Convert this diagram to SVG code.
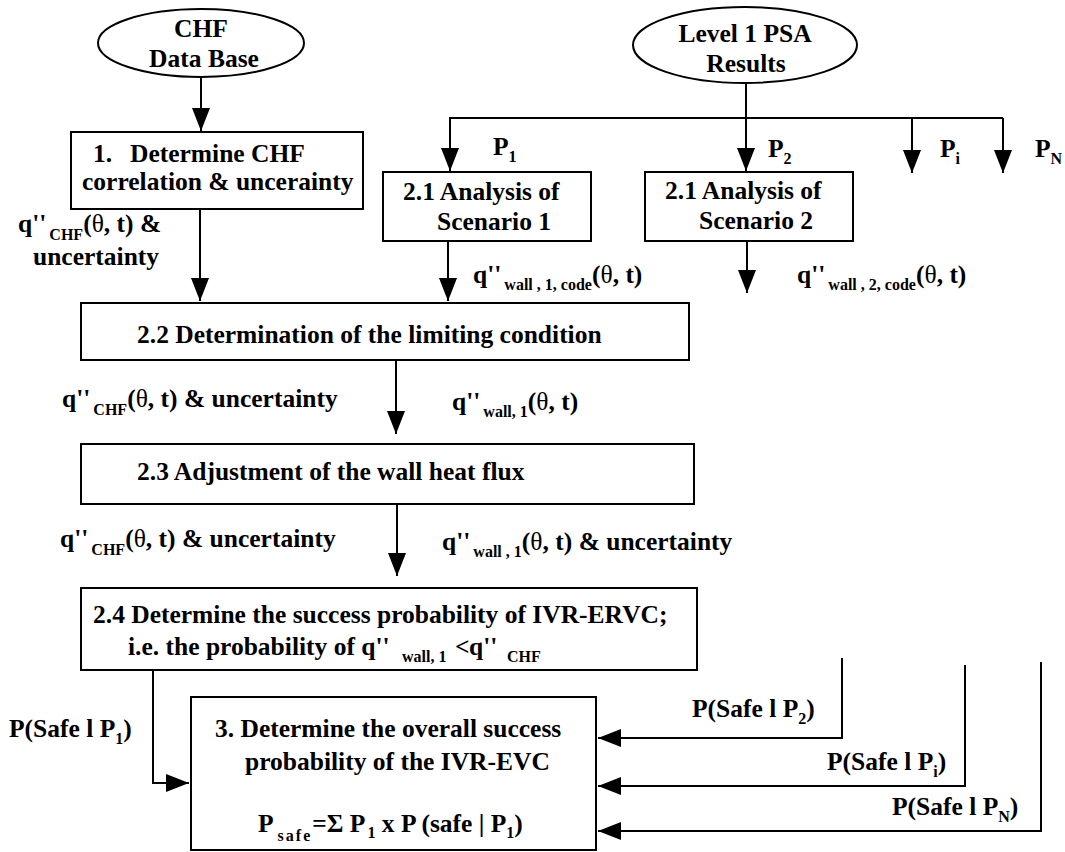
<svg xmlns="http://www.w3.org/2000/svg" width="1065" height="852" viewBox="0 0 1065 852">
<style>
text{font-family:"Liberation Serif","Times New Roman",serif;font-weight:bold;font-size:25.5px;fill:#000}
.sub{font-size:16px}
.th{font-weight:normal}
.box{fill:#fff;stroke:#000;stroke-width:2}
.ln{fill:none;stroke:#000;stroke-width:2}
</style>
<defs>
<marker id="ah" markerUnits="userSpaceOnUse" markerWidth="26" markerHeight="20" refX="23" refY="9" orient="auto">
<path d="M0,0 L23,9 L0,18 z" fill="#000"/>
</marker>
</defs>
<rect width="1065" height="852" fill="#fff"/>

<g id="connectors">
<line class="ln" x1="201" y1="77" x2="201" y2="131" marker-end="url(#ah)"/>
<line class="ln" x1="200" y1="209" x2="200" y2="301" marker-end="url(#ah)"/>
<line class="ln" x1="746" y1="83" x2="746" y2="171" marker-end="url(#ah)"/>
<polyline class="ln" points="450,172 450,118 1003,118"/>
<line class="ln" x1="450" y1="118" x2="450" y2="171" marker-end="url(#ah)"/>
<line class="ln" x1="912" y1="118" x2="912" y2="173" marker-end="url(#ah)"/>
<line class="ln" x1="1003" y1="118" x2="1003" y2="173" marker-end="url(#ah)"/>
<line class="ln" x1="448" y1="241" x2="448" y2="301" marker-end="url(#ah)"/>
<line class="ln" x1="747" y1="241" x2="747" y2="293" marker-end="url(#ah)"/>
<line class="ln" x1="396" y1="360" x2="396" y2="434" marker-end="url(#ah)"/>
<line class="ln" x1="397" y1="504" x2="397" y2="576" marker-end="url(#ah)"/>
<polyline class="ln" points="153,670 153,783 189,783" marker-end="url(#ah)"/>
<polyline class="ln" points="842,658 842,738 598,738" marker-end="url(#ah)"/>
<polyline class="ln" points="965,665 965,786 598,786" marker-end="url(#ah)"/>
<polyline class="ln" points="1041,662 1041,831 598,831" marker-end="url(#ah)"/>
</g>

<g id="chf-db">
<ellipse class="box" cx="201" cy="43" rx="103" ry="34"/>
<text x="201" y="37" text-anchor="middle">CHF</text>
<text x="204" y="67" text-anchor="middle">Data Base</text>
</g>

<g id="psa">
<ellipse class="box" cx="745" cy="45" rx="112" ry="38"/>
<text x="745" y="42" text-anchor="middle">Level 1 PSA</text>
<text x="746" y="72" text-anchor="middle">Results</text>
</g>

<g id="step1">
<rect class="box" x="71" y="132" width="292" height="77"/>
<text x="93" y="162">1.</text>
<text x="130" y="162">Determine CHF</text>
<text x="82" y="190">correlation &amp; uncerainty</text>
</g>

<g id="scenario1">
<rect class="box" x="383" y="172" width="208" height="69"/>
<text x="403" y="200">2.1 Analysis of</text>
<text x="437" y="230">Scenario 1</text>
</g>

<g id="scenario2">
<rect class="box" x="645" y="172" width="208" height="69"/>
<text x="665" y="199">2.1 Analysis of</text>
<text x="699" y="229">Scenario 2</text>
</g>

<g id="step22">
<rect class="box" x="81" y="303" width="608" height="57"/>
<text x="137" y="343">2.2  Determination of the limiting condition</text>
</g>

<g id="step23">
<rect class="box" x="81" y="444" width="613" height="60"/>
<text x="137" y="480">2.3  Adjustment of the wall heat flux</text>
</g>

<g id="step24">
<rect class="box" x="81" y="588" width="616" height="82"/>
<text x="93" y="623">2.4 Determine the success probability of IVR-ERVC;</text>
<text x="128" y="655">i.e. the probability of q''</text>
<text x="402" y="662" class="sub">wall, 1</text>
<text x="455" y="655">&lt;</text>
<text x="469" y="655">q''</text>
<text x="507" y="662" class="sub">CHF</text>
</g>

<g id="step3">
<rect class="box" x="191" y="697" width="405" height="153"/>
<text x="215" y="737">3. Determine the overall success</text>
<text x="245" y="770">probability of the IVR-EVC</text>
<text x="258" y="832">P<tspan class="sub" dx="4" dy="9" letter-spacing="2">safe</tspan><tspan dy="-9">=Σ P</tspan><tspan class="sub" dx="2" dy="6">1</tspan><tspan dy="-6"> x P (safe | P</tspan><tspan class="sub" dy="6">1</tspan><tspan dy="-6">)</tspan></text>
</g>

<g id="labels">
<text x="493" y="155">P<tspan class="sub" dy="7">1</tspan></text>
<text x="768" y="157">P<tspan class="sub" dy="7">2</tspan></text>
<text x="940" y="157">P<tspan class="sub" dy="7">i</tspan></text>
<text x="1035" y="157">P<tspan class="sub" dy="7">N</tspan></text>

<text x="18" y="232">q''<tspan class="sub" dx="3" dy="8">CHF</tspan><tspan dy="-8">(<tspan class="th">θ</tspan>,  t) &amp;</tspan></text>
<text x="33" y="265">uncertainty</text>

<text x="473" y="283">q''<tspan class="sub" dx="3" dy="7">wall , 1, code</tspan><tspan dy="-7">(<tspan class="th">θ</tspan>, t)</tspan></text>
<text x="797" y="283">q''<tspan class="sub" dx="3" dy="7">wall , 2, code</tspan><tspan dy="-7">(<tspan class="th">θ</tspan>, t)</tspan></text>

<text x="62" y="407">q''<tspan class="sub" dx="3" dy="8">CHF</tspan><tspan dy="-8">(<tspan class="th">θ</tspan>,  t) &amp; uncertainty</tspan></text>
<text x="452" y="410">q''<tspan class="sub" dx="3" dy="7">wall, 1</tspan><tspan dy="-7">(<tspan class="th">θ</tspan>,  t)</tspan></text>

<text x="60" y="547">q''<tspan class="sub" dx="3" dy="8">CHF</tspan><tspan dy="-8">(<tspan class="th">θ</tspan>,  t) &amp; uncertainty</tspan></text>
<text x="442" y="550">q''<tspan class="sub" dx="3" dy="7">wall , 1</tspan><tspan dy="-7">(<tspan class="th">θ</tspan>,  t) &amp; uncertainty</tspan></text>

<text x="9" y="737">P(Safe  l P<tspan class="sub" dy="7">1</tspan><tspan dy="-7">)</tspan></text>
<text x="692" y="717">P(Safe l P<tspan class="sub" dy="7">2</tspan><tspan dy="-7">)</tspan></text>
<text x="827" y="770">P(Safe l P<tspan class="sub" dy="7">i</tspan><tspan dy="-7">)</tspan></text>
<text x="892" y="815">P(Safe l P<tspan class="sub" dy="7">N</tspan><tspan dy="-7">)</tspan></text>
</g>
</svg>
